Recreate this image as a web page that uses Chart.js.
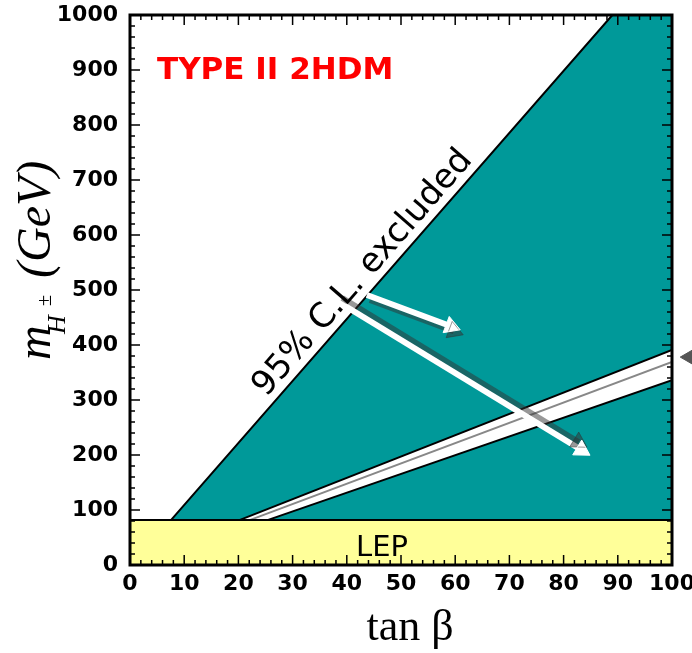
<!DOCTYPE html>
<html lang="en">
<head>
<meta charset="UTF-8">
<title>Type II 2HDM charged Higgs exclusion</title>
<script src="https://cdn.jsdelivr.net/npm/chart.js@4.4.1/dist/chart.umd.min.js"></script>
<style>
  html, body { margin: 0; padding: 0; background: #fff; }
</style>
</head>
<body>
<canvas id="myChart" width="692" height="653"></canvas>
<script>
   // axis ranges and ticks
   const xRange = [0, 100];
   const yRange = [0, 1000];
   const xStep = 10, xMinor = 2;
   const yStep = 100, yMinor = 20;

   // LEP direct search limit (GeV)
   const lepLimit = 82;
   const lepBand = [{ x: 0, y: lepLimit }, { x: 100, y: lepLimit }];

   // 95% C.L. excluded boundary (excluded below/right of it)
   const exclBoundary = [{ x: 7.6, y: 82 }, { x: 89, y: 1000 }, { x: 100, y: 1000 }];

   // allowed strip inside the excluded region
   const stripUpper = [{ x: 20.3, y: 82 }, { x: 100, y: 391 }];
   const stripLower = [{ x: 25.5, y: 82 }, { x: 100, y: 336 }];
   const stripMiddle = [{ x: 22.2, y: 82 }, { x: 100, y: 369 }];

   // arrows (start, head centre)
   const arrowShort = [{ x: 43.7, y: 491 }, { x: 59.2, y: 434 }];
   const arrowLong = [{ x: 39.7, y: 471 }, { x: 83.3, y: 209 }];
   // grey marker just outside the right axis
   const sideMarker = [{ x: 103, y: 378 }];

   // label anchors (data coords)
   const lepLabel = { x: 46.5, y: 16 };
   const exclLabelFrac = 0.465;

   const teal = '#009999';
   const lepYellow = '#ffff99';

   const stripShape = stripUpper.concat(stripLower.slice().reverse(), [stripUpper[0]]);

   const shadowPlugin = {
      id: 'shadowPlugin',
      beforeDatasetDraw(chart, args) {
         const ds = chart.data.datasets[args.index];
         if (!ds.shadow) return;
         const ctx = chart.ctx;
         ctx.save();
         ctx.shadowColor = 'rgba(50,50,50,0.5)';
         ctx.shadowBlur = 0;
         ctx.shadowOffsetX = ds.shadow[0];
         ctx.shadowOffsetY = ds.shadow[1];
      },
      afterDatasetDraw(chart, args) {
         const ds = chart.data.datasets[args.index];
         if (ds.shadow) chart.ctx.restore();
      }
   };

   // marker outside the plot area (points there are skipped by Chart.js)
   const outsideMarker = {
      id: 'outsideMarker',
      afterDatasetsDraw(chart) {
         const { ctx, scales: { x, y } } = chart;
         ctx.save();
         ctx.fillStyle = '#555';
         ctx.strokeStyle = '#555';
         ctx.lineWidth = 1;
         sideMarker.forEach(p => {
            Chart.helpers.drawPoint(ctx, { pointStyle: 'triangle', radius: 8, rotation: -90, borderWidth: 1 },
               x.getPixelForValue(p.x), y.getPixelForValue(p.y));
         });
         ctx.restore();
      }
   };

   const frameTicks = {
      id: 'frameTicks',
      afterDatasetsDraw(chart) {
         const { ctx, chartArea: a, scales: { x, y } } = chart;
         ctx.save();
         ctx.strokeStyle = '#000';
         ctx.lineWidth = 1.5;
         ctx.beginPath();
         const nx = (xRange[1] - xRange[0]) / xMinor;
         for (let i = 0; i <= nx; i++) {
            const px = x.getPixelForValue(xRange[0] + i * xMinor);
            const len = (i % (xStep / xMinor) === 0) ? 10 : 5;
            ctx.moveTo(px, a.bottom); ctx.lineTo(px, a.bottom - len);
            ctx.moveTo(px, a.top); ctx.lineTo(px, a.top + len);
         }
         const ny = (yRange[1] - yRange[0]) / yMinor;
         for (let i = 0; i <= ny; i++) {
            const py = y.getPixelForValue(yRange[0] + i * yMinor);
            const len = (i % (yStep / yMinor) === 0) ? 10 : 5;
            ctx.moveTo(a.left, py); ctx.lineTo(a.left + len, py);
            ctx.moveTo(a.right, py); ctx.lineTo(a.right - len, py);
         }
         ctx.stroke();
         ctx.lineWidth = 3;
         ctx.strokeRect(a.left, a.top, a.right - a.left, a.bottom - a.top);
         ctx.restore();
      }
   };

   const labels = {
      id: 'labels',
      afterDraw(chart) {
         const { ctx, chartArea: a, scales: { x, y } } = chart;
         ctx.save();
         ctx.textBaseline = 'alphabetic';

         // red title
         ctx.fillStyle = '#ff0000';
         ctx.font = 'bold 31px "DejaVu Sans"';
         ctx.textAlign = 'left';
         ctx.fillText('TYPE II 2HDM', a.left + 27, a.top + 64);

         // LEP
         ctx.fillStyle = '#000';
         ctx.font = '29px "DejaVu Sans"';
         ctx.textAlign = 'center';
         ctx.fillText('LEP', x.getPixelForValue(lepLabel.x), y.getPixelForValue(lepLabel.y));

         // label along the exclusion boundary
         const x0 = x.getPixelForValue(exclBoundary[0].x), y0 = y.getPixelForValue(exclBoundary[0].y);
         const x1 = x.getPixelForValue(exclBoundary[1].x), y1 = y.getPixelForValue(exclBoundary[1].y);
         const ang = Math.atan2(y1 - y0, x1 - x0);
         ctx.save();
         ctx.translate(x0 + (x1 - x0) * exclLabelFrac, y0 + (y1 - y0) * exclLabelFrac);
         ctx.rotate(ang);
         ctx.font = '34px "DejaVu Sans"';
         ctx.fillText('95% C.L. excluded', 0, -9);
         ctx.restore();

         // x title
         ctx.font = '44px "Liberation Serif"';
         ctx.fillText('tan \u03b2', (a.left + a.right) / 2 + 9, a.bottom + 75);

         // y title
         ctx.save();
         ctx.translate(a.left - 80, a.top + 345);
         ctx.rotate(-Math.PI / 2);
         ctx.textAlign = 'left';
         ctx.font = 'italic 48px "Liberation Serif"';
         ctx.fillText('m', 0, 0);
         ctx.font = 'italic 26px "Liberation Serif"';
         ctx.fillText('H', 26, 15);
         ctx.font = '20px "Liberation Serif"';
         ctx.fillText('\u00b1', 54, 1);
         ctx.font = 'italic 48px "Liberation Serif"';
         ctx.fillText('(GeV)', 82, 0);
         ctx.restore();

         ctx.restore();
      }
   };

   const lineBase = { pointRadius: 0, tension: 0, fill: false };

   const config = {
      type: 'line',
      data: {
         datasets: [
            Object.assign({}, lineBase, {
               data: arrowLong, order: 1, borderColor: '#fff', borderWidth: 6,
               pointRadius: [0, 10], pointStyle: 'triangle', pointRotation: [0, 121.3],
               pointBackgroundColor: '#fff', pointBorderColor: '#fff', pointBorderWidth: 1,
               shadow: [-3, -8]
            }),
            Object.assign({}, lineBase, {
               data: arrowShort, order: 1, borderColor: '#fff', borderWidth: 6,
               pointRadius: [0, 10], pointStyle: 'triangle', pointRotation: [0, 110.6],
               pointBackgroundColor: '#fff', pointBorderColor: '#fff', pointBorderWidth: 1,
               shadow: [3, 5]
            }),
            Object.assign({}, lineBase, {
               data: lepBand, order: 3, borderColor: '#000', borderWidth: 2,
               fill: 'origin', backgroundColor: lepYellow
            }),
            Object.assign({}, lineBase, {
               data: stripMiddle, order: 4, borderColor: '#888', borderWidth: 2
            }),
            Object.assign({}, lineBase, {
               data: stripUpper, order: 4, borderColor: '#000', borderWidth: 2
            }),
            Object.assign({}, lineBase, {
               data: stripLower, order: 4, borderColor: '#000', borderWidth: 2
            }),
            Object.assign({}, lineBase, {
               data: stripShape, order: 5, borderWidth: 0, borderColor: 'rgba(0,0,0,0)',
               fill: 'shape', backgroundColor: '#fff'
            }),
            Object.assign({}, lineBase, {
               data: exclBoundary, order: 6, borderColor: '#000', borderWidth: 2,
               fill: { value: lepLimit }, backgroundColor: teal
            })
         ]
      },
      options: {
         responsive: false,
         animation: false,
         layout: { padding: { left: 0, right: 20, top: 15, bottom: 0 } },
         plugins: { legend: { display: false }, tooltip: { enabled: false } },
         scales: {
            x: {
               type: 'linear', min: xRange[0], max: xRange[1],
               ticks: {
                  stepSize: xStep, autoSkip: false, maxRotation: 0, padding: 6, color: '#000',
                  font: { family: 'DejaVu Sans', size: 22, weight: 'bold' },
                  callback: v => String(v)
               },
               grid: { display: false, drawTicks: false },
               border: { display: false },
               afterFit(s) { s.height = 88; s.paddingLeft = 0; s.paddingRight = 0; }
            },
            y: {
               type: 'linear', min: yRange[0], max: yRange[1],
               ticks: {
                  stepSize: yStep, autoSkip: false, padding: 12, color: '#000',
                  font: { family: 'DejaVu Sans', size: 22, weight: 'bold' },
                  callback: v => String(v)
               },
               grid: { display: false, drawTicks: false },
               border: { display: false },
               afterFit(s) { s.width = 130; s.paddingTop = 0; s.paddingBottom = 0; }
            }
         }
      },
      plugins: [shadowPlugin, frameTicks, outsideMarker, labels]
   };

   new Chart(document.getElementById('myChart').getContext('2d'), config);
</script>
</body>
</html>
